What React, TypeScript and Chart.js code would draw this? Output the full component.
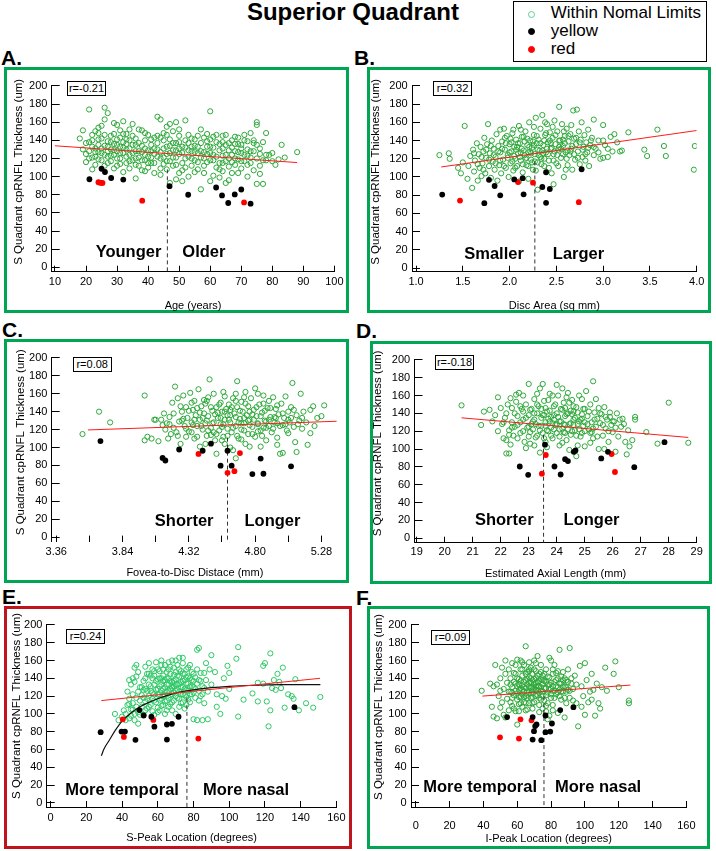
import React, { useEffect, useRef } from "react";
import { Chart, registerables } from "chart.js";

Chart.register(...registerables);

const FONT = '"Liberation Sans", Arial, Helvetica, sans-serif';

// ---------- shared ----------
const yTicks = [0, 20, 40, 60, 80, 100, 120, 140, 160, 180, 200];
const yTitle = "S Quadrant cpRNFL Thickness (um)";

// ---------- A: Age ----------
const ageTicks = [10, 20, 30, 40, 50, 60, 70, 80, 90, 100];
const ageTickLabels = ["10", "20", "30", "40", "50", "60", "70", "80", "90", "100"];
const ageWNL = [
  [18,142],[19,151],[19,130],[20,125],[20,116],[21,174],[21,138],[21,128],[22,121],[22,108],[22,133],[22,146],[20,137],
  [23,122],[23,113],[23,131],[24,148],[24,127],[24,135],[25,156],[25,118],[25,142],[25,126],[26,163],[26,134],[26,112],[27,170],[27,139],[27,122],[26,176],[24,154],[27,128],
  [28,130],[28,117],[28,145],[29,159],[29,124],[29,136],[30,141],[30,112],[30,128],[31,151],[31,133],[31,120],[32,161],[32,138],[32,105],[30,157],[29,109],[32,126],[31,143],
  [33,147],[33,130],[33,115],[34,140],[34,124],[34,109],[35,158],[35,135],[35,118],[36,142],[36,128],[36,98],[37,152],[37,121],[37,137],[34,152],[36,113],[33,136],
  [38,151],[38,127],[38,107],[39,140],[39,118],[39,131],[40,122],[40,146],[40,110],[41,135],[41,115],[42,125],[42,104],[42,143],[39,106],[41,128],
  [43,166],[43,145],[43,130],[44,163],[44,120],[44,109],[45,140],[45,131],[45,114],[46,155],[46,146],[46,125],[47,158],[47,134],[47,117],[47,93],[44,102],[46,108],
  [48,150],[48,129],[48,112],[49,160],[49,137],[49,121],[49,97],[50,145],[50,131],[50,104],[51,126],[51,115],[52,162],[52,140],[52,132],[52,110],[50,152],[51,95],
  [53,137],[53,122],[53,100],[54,142],[54,128],[54,112],[55,134],[55,118],[56,145],[56,126],[56,108],[57,152],[57,137],[57,86],[55,105],[57,121],[54,133],
  [58,143],[58,120],[58,104],[59,147],[59,133],[59,116],[60,172],[60,141],[60,126],[60,95],[61,132],[61,118],[62,138],[62,110],[62,146],[61,101],[59,125],
  [63,129],[63,115],[63,99],[64,145],[64,123],[64,106],[65,135],[65,117],[65,93],[66,129],[66,111],[67,140],[67,124],[67,104],[66,96],[64,131],
  [68,144],[68,128],[68,113],[69,136],[69,119],[70,126],[70,109],[70,131],[71,146],[71,140],[71,117],[72,139],[72,123],[72,100],[69,104],[70,135],
  [73,148],[73,128],[73,115],[74,140],[74,107],[75,160],[75,157],[75,120],[75,92],[76,125],[76,103],[77,118],[77,92],[78,148],[78,124],[74,137],[76,112],
  [79,124],[80,126],[81,113],[82,119],[84,121],[88,127],[80,117],[83,135],
  [21,120],[22,140],[23,127],[23,150],[24,119],[24,141],[25,131],[26,124],[26,146],[27,115],[27,133],[28,123],[28,138],[29,129],[29,147],
  [30,120],[30,135],[31,126],[31,114],[32,132],[32,147],[33,122],[33,141],[34,117],[34,131],[35,126],[35,145],[36,120],[36,135],[37,128],
  [37,112],[38,134],[38,118],[39,124],[39,148],[40,129],[40,115],[41,141],[41,121],[42,131],[42,115],[43,122],[43,137],[44,127],[44,143],
  [45,121],[45,148],[46,133],[46,117],[47,141],[47,126],[48,121],[48,137],[49,129],[49,113],[50,125],[50,138],[51,133],[51,107],[52,120],
  [53,129],[53,146],[54,120],[55,127],[55,141],[56,116],[56,133],[57,128],[58,127],[58,112],[59,139],[60,118],[60,133],[61,124],[61,144],
  [62,122],[63,136],[63,108],[64,115],[64,138],[65,124],[65,146],[66,120],[66,137],[67,116],[67,132],[68,120],[68,136],[69,127],[69,143],
  [70,117],[71,124],[72,130],[72,113],[73,121],[74,128],[75,135],[76,131],[77,138],[78,118],
];
const ageYellow = [
  [21.1,97.1],[25.0,108.7],[26.1,105.1],[28.1,98.5],[32.0,96.7],[46.9,89.5],[52.9,80.0],
  [61.9,88.0],[63.8,79.3],[65.8,70.9],[67.9,80.4],[70.0,85.8],[73.0,70.2],
];
const ageRed = [[24.0,93.8],[24.8,93.1],[25.3,93.1],[38.1,73.5],[70.9,71.6]];
const ageFit = [[10,134],[88,115.5]];

// ---------- B: Disc area ----------
const discTicks = [1.0, 1.5, 2.0, 2.5, 3.0, 3.5, 4.0];
const discTickLabels = ["1.0", "1.5", "2.0", "2.5", "3.0", "3.5", "4.0"];
const discWNL = [
  [1.25,124],[1.35,126],[1.36,120],[1.45,110],[1.48,104],[1.50,116],
  [1.52,156],[1.55,98],[1.56,112],[1.58,123],[1.60,88],[1.61,130],[1.62,106],[1.63,118],[1.65,137],[1.66,96],[1.67,125],[1.68,110],[1.69,133],[1.70,101],
  [1.71,115],[1.72,128],[1.73,143],[1.74,104],[1.75,121],[1.76,136],[1.77,158],[1.78,112],[1.79,126],[1.80,99],[1.81,140],[1.82,117],[1.83,131],[1.84,108],[1.85,122],[1.86,147],[1.87,96],[1.88,134],[1.89,113],[1.90,152],[1.90,127],
  [1.91,104],[1.92,139],[1.93,119],[1.94,153],[1.95,130],[1.96,110],[1.97,145],[1.98,124],[1.99,100],[2.00,136],[2.01,115],[2.02,128],[2.03,148],[2.04,107],[2.05,133],[2.06,120],[2.07,141],[2.08,112],[2.09,126],[2.10,156],[2.10,95],
  [2.11,137],[2.12,118],[2.13,131],[2.14,105],[2.15,144],[2.16,124],[2.17,150],[2.18,113],[2.19,135],[2.20,127],[2.20,98],[2.21,160],[2.22,140],[2.23,119],[2.24,132],[2.25,108],[2.26,146],[2.27,125],[2.28,165],[2.29,137],[2.30,116],[2.30,86],
  [2.31,141],[2.32,129],[2.33,153],[2.34,120],[2.35,168],[2.36,135],[2.37,112],[2.38,146],[2.39,127],[2.40,158],[2.41,138],[2.42,118],[2.43,149],[2.44,131],[2.45,104],[2.46,143],[2.47,125],[2.48,162],[2.49,136],[2.50,115],[2.47,92],
  [2.51,150],[2.52,130],[2.53,177],[2.54,140],[2.55,121],[2.56,158],[2.57,134],[2.58,100],[2.59,145],[2.60,127],[2.61,153],[2.62,113],[2.63,139],[2.64,124],[2.65,147],[2.66,131],[2.67,108],[2.68,173],[2.69,142],[2.70,119],
  [2.71,136],[2.72,174],[2.73,128],[2.74,150],[2.75,114],[2.76,141],[2.77,160],[2.78,122],[2.79,133],[2.80,146],[2.81,118],[2.82,138],[2.83,127],[2.84,152],[2.85,112],[2.86,135],[2.88,143],[2.90,163],[2.90,124],
  [2.92,131],[2.95,140],[2.97,120],[3.00,157],[3.00,121],[3.02,135],[3.05,122],[3.08,144],[3.10,128],[3.15,138],[3.18,128],[3.20,129],[3.12,147],[3.27,149],
  [3.44,130],[3.47,123],[3.58,152],[3.65,134],[3.67,123],[3.98,134],[3.97,108],
  [2.02,138],[2.08,133],[2.12,127],[2.16,139],[2.18,121],[2.22,128],[2.26,135],[2.30,130],[2.33,122],[2.37,140],
  [2.40,131],[2.44,137],[2.48,128],[2.53,133],[2.57,141],[2.62,129],[2.06,110],[2.14,114],[2.24,116],[2.36,126],
  [1.62,126],[1.66,114],[1.70,122],[1.72,108],[1.75,130],[1.78,119],[1.80,134],[1.83,124],[1.85,115],[1.88,128],[1.90,118],[1.92,131],
  [1.94,112],[1.96,137],[1.98,121],[2.00,127],[2.01,142],[2.03,117],[2.05,123],[2.07,130],[2.09,137],[2.11,122],[2.13,144],[2.15,129],
  [2.17,120],[2.19,142],[2.21,133],[2.23,126],[2.25,139],[2.27,117],[2.29,145],[2.31,124],[2.33,137],[2.35,129],[2.37,120],[2.39,148],
  [2.41,125],[2.43,140],[2.45,132],[2.47,118],[2.49,146],[2.51,124],[2.53,140],[2.55,131],[2.57,125],[2.59,137],[2.61,120],[2.63,145],
  [2.65,128],[2.67,134],[2.69,125],[2.71,143],[2.73,121],[2.75,138],[2.78,130],[2.81,125],[2.84,132],[2.87,140],[2.90,133],[2.95,127],
  [3.00,140],[3.05,131],[2.20,112],[2.28,107],[2.34,114],[2.42,110],[2.52,112],[2.60,108],[2.12,152],[2.26,155],[2.38,160],[2.46,155],
  [2.58,150],[2.66,157],[1.95,143],[2.04,152],
];
const discYellow = [
  [1.28,80.7],[1.78,96.9],[1.84,90.1],[1.90,79.9],[1.73,71.2],[2.05,97.3],[2.14,98.7],
  [2.15,81.0],[2.35,89.0],[2.39,105.2],[2.39,71.6],[2.43,86.8],[2.77,108.5],
];
const discRed = [[1.47,74.1],[2.09,94.4],[2.25,93.7],[2.74,72.3]];
const discFit = [[1.27,111],[4.0,151]];

// ---------- C: Fovea-to-disc distance ----------
const fdTicks = [3.36, 3.6, 3.84, 4.08, 4.32, 4.56, 4.8, 5.04, 5.28];
const fdTickLabels = ["3.36", "", "3.84", "", "4.32", "", "4.80", "", "5.28"];
const fdWNL = [
  [3.55,115],[3.67,140],[3.75,128],[4.00,158],[4.02,112],[4.00,108],[4.05,110],[4.08,131],[4.07,131],
  [4.10,107],[4.12,131],[4.13,125],[4.14,138],[4.15,120],[4.16,127],[4.17,110],[4.18,134],[4.19,115],[4.20,150],[4.21,122],[4.22,168],[4.23,117],[4.24,155],[4.25,129],[4.26,104],[4.27,140],[4.28,158],[4.29,124],[4.30,112],[4.30,145],
  [4.31,133],[4.32,118],[4.33,161],[4.34,128],[4.35,142],[4.36,110],[4.37,136],[4.38,124],[4.39,165],[4.40,131],[4.40,101],[4.41,146],[4.42,120],[4.43,138],[4.44,127],[4.45,152],[4.45,113],[4.38,144],
  [4.46,135],[4.47,176],[4.48,122],[4.49,141],[4.50,160],[4.50,128],[4.51,108],[4.52,145],[4.53,133],[4.54,119],[4.55,150],[4.55,126],[4.56,140],[4.57,112],[4.58,157],[4.58,131],[4.59,143],[4.60,121],[4.60,136],[4.57,162],[4.52,93],
  [4.61,148],[4.62,128],[4.63,117],[4.64,155],[4.65,138],[4.66,124],[4.67,174],[4.67,145],[4.68,110],[4.69,132],[4.70,151],[4.70,120],[4.71,140],[4.72,127],[4.73,162],[4.73,104],[4.74,136],[4.75,146],[4.75,115],[4.64,97],[4.66,88],
  [4.76,131],[4.77,155],[4.78,123],[4.79,142],[4.80,166],[4.80,112],[4.81,135],[4.82,127],[4.83,148],[4.84,119],[4.85,139],[4.86,158],[4.87,130],[4.88,108],[4.89,144],[4.90,124],[4.90,152],[4.84,101],
  [4.91,134],[4.92,117],[4.93,156],[4.94,128],[4.95,143],[4.96,111],[4.97,137],[4.98,93],[4.99,149],[5.00,125],[5.00,94],[5.01,133],[5.02,157],[5.03,119],[5.04,140],[5.05,128],[5.06,145],[5.07,172],[5.08,123],[5.09,106],[5.10,136],[5.10,95],
  [5.12,130],[5.13,160],[5.14,121],[5.15,140],[5.17,128],[5.18,103],[5.20,142],[5.20,116],[5.22,146],[5.23,124],[5.25,133],[5.28,135],[5.30,147],
  [4.35,125],[4.42,133],[4.48,114],[4.53,139],[4.56,123],[4.62,136],[4.68,128],[4.72,133],[4.78,137],[4.82,118],[4.88,129],[4.94,134],
  [4.44,149],[4.58,104],[4.62,142],[4.70,109],[4.76,125],[4.86,122],[4.96,127],[5.04,131],[4.28,132],[4.34,150],[4.50,117],[4.66,152],
  [4.18,126],[4.21,138],[4.24,113],[4.27,130],[4.30,121],[4.32,141],[4.34,117],[4.36,131],[4.38,112],[4.40,139],[4.41,124],[4.43,153],
  [4.45,130],[4.46,119],[4.48,145],[4.49,127],[4.51,137],[4.52,115],[4.54,148],[4.55,133],[4.57,126],[4.58,140],[4.60,113],[4.61,131],
  [4.63,145],[4.64,122],[4.66,134],[4.67,113],[4.69,141],[4.70,127],[4.72,119],[4.73,149],[4.75,130],[4.76,140],[4.78,115],[4.79,131],
  [4.81,145],[4.82,126],[4.84,135],[4.85,113],[4.87,141],[4.88,122],[4.90,131],[4.91,144],[4.93,121],[4.95,133],[4.96,147],[4.98,124],
  [5.00,138],[5.02,126],[5.04,116],[5.06,133],[5.08,142],[5.11,126],[5.14,133],[4.26,146],[4.36,152],[4.46,156],[4.56,108],[4.66,160],
  [4.76,101],[4.86,149],[4.96,103],[4.44,104],[4.62,100],[4.72,156],[4.82,160],
];
const fdYellow = [
  [3.68,107.2],[4.13,88.4],[4.15,85.5],[4.25,97.8],[4.42,96.4],[4.48,104.3],[4.55,79.7],
  [4.60,96.4],[4.63,79.7],[4.78,70.3],[4.84,87.7],[4.86,70.7],[5.06,79.0],
];
const fdRed = [[4.39,92.8],[4.60,71.7],[4.65,73.6],[4.69,93.8]];
const fdFit = [[3.59,119.6],[5.39,129.3]];

// ---------- D: Axial length ----------
const alTicks = [19, 20, 21, 22, 23, 24, 25, 26, 27, 28, 29];
const alTickLabels = ["19", "20", "21", "22", "23", "24", "25", "26", "27", "28", "29"];
const alWNL = [
  [20.6,149],[21.3,127],[21.4,142],[21.6,144],[21.9,158],[21.8,138],[21.7,131],[21.9,120],
  [22.0,146],[22.05,128],[22.1,112],[22.15,135],[22.2,95],[22.25,150],[22.3,95],[22.3,121],[22.35,157],[22.4,130],[22.45,115],[22.5,140],[22.2,110],[22.4,124],
  [22.55,153],[22.6,127],[22.65,163],[22.7,118],[22.75,145],[22.8,133],[22.85,108],[22.9,150],[22.95,124],[23.0,173],[23.0,138],[22.6,112],[22.8,160],[22.9,101],[22.7,130],
  [23.05,119],[23.1,145],[23.15,131],[23.2,156],[23.25,113],[23.3,140],[23.35,126],[23.4,168],[23.45,135],[23.5,173],[23.5,118],[23.2,104],[23.3,150],[23.4,96],[23.1,128],[23.45,145],
  [23.55,154],[23.6,130],[23.65,142],[23.7,120],[23.75,162],[23.8,136],[23.85,112],[23.9,148],[23.95,127],[24.0,172],[24.0,140],[23.6,108],[23.7,155],[23.8,124],[23.9,133],[23.55,138],[24.0,118],
  [24.05,160],[24.1,131],[24.15,145],[24.2,123],[24.25,152],[24.3,137],[24.35,110],[24.4,163],[24.45,128],[24.5,143],[24.5,116],[24.1,104],[24.2,168],[24.3,127],[24.4,140],[24.45,99],
  [24.55,155],[24.6,133],[24.65,121],[24.7,147],[24.75,128],[24.8,160],[24.85,114],[24.9,139],[24.95,126],[25.0,145],[25.0,103],[24.6,142],[24.8,131],[24.9,118],[24.7,92],[25.05,165],
  [25.1,137],[25.15,122],[25.2,150],[25.25,130],[25.3,176],[25.3,112],[25.35,141],[25.4,125],[25.45,134],[25.5,146],[25.5,100],[25.2,118],[25.4,156],
  [25.55,129],[25.6,139],[25.65,115],[25.7,147],[25.75,123],[25.8,133],[25.85,108],[25.9,141],[25.95,127],[26.0,119],[25.7,100],[25.9,136],
  [26.05,131],[26.15,140],[26.2,114],[26.3,125],[26.35,134],[26.45,108],[26.5,94],[26.55,121],[26.7,110],[26.8,136],[26.8,133],[26.1,97],[26.4,128],[26.6,103],
  [27.2,119],[27.6,106],[28.0,152],[28.7,107],
  [23.2,133],[23.6,126],[23.9,138],[24.1,122],[24.3,146],[24.6,127],[24.9,134],[23.4,121],
  [23.75,131],[24.25,119],[24.55,139],[22.8,142],[23.0,125],[25.0,130],[25.3,123],
  [22.1,130],[22.2,140],[22.3,116],[22.4,146],[22.5,125],[22.6,137],[22.7,148],[22.8,120],[22.9,135],[23.0,114],[23.05,144],[23.15,122],
  [23.2,140],[23.25,128],[23.3,115],[23.35,148],[23.45,126],[23.5,138],[23.55,112],[23.6,146],[23.65,121],[23.7,134],[23.75,143],[23.8,115],
  [23.85,129],[23.9,122],[23.95,150],[24.0,128],[24.05,136],[24.1,114],[24.15,131],[24.2,144],[24.25,128],[24.3,118],[24.35,139],[24.4,122],
  [24.45,152],[24.5,129],[24.55,120],[24.6,148],[24.65,135],[24.7,115],[24.75,141],[24.8,122],[24.85,133],[24.95,145],[25.0,120],[25.1,128],
  [25.15,142],[25.25,119],[25.35,133],[25.45,114],[25.55,140],[25.65,127],[25.75,136],[25.85,120],[26.0,131],[26.1,124],[26.25,133],[22.35,105],
  [23.05,106],[23.65,102],[24.2,107],[24.75,104],[25.2,107],[22.55,161],[23.3,162],[23.85,160],[24.35,158],[24.9,156],
];
const alYellow = [
  [22.68,80.4],[22.98,71.0],[23.58,104.9],[23.92,80.4],[24.14,71.4],[24.30,88.6],[24.40,86.5],
  [24.61,96.9],[24.67,98.4],[25.59,89.4],[25.83,96.9],[26.77,79.6],[27.85,107.7],
];
const alRed = [[23.47,72.4],[23.61,93.3],[25.96,94.4],[26.08,74.2]];
const alFit = [[20.6,135],[28.7,113]];

// ---------- E: S-peak location ----------
const peakTicks = [0, 20, 40, 60, 80, 100, 120, 140, 160];
const peakTickLabels = ["0", "20", "40", "60", "80", "100", "120", "140", "160"];
const speakWNL = [
  [36,100],[38,93],[40,97],[41,104],[42,100],[43,110],[44,95],[44,117],[45,105],[45,98],[46,122],[46,112],[47,100],[47,93],[48,118],
  [48,108],[49,125],[49,89],[50,115],[50,99],[44,138],[46,140],[47,136],[45,133],[48,142],[47,152],[49,147],[48,155],[50,130],[43,125],
  [51,108],[51,121],[52,137],[52,99],[53,128],[53,114],[54,145],[54,106],[55,133],[55,120],[55,157],[56,110],[56,126],[56,143],[57,150],
  [57,117],[57,103],[58,133],[58,122],[58,148],[59,113],[59,127],[59,158],[60,139],[60,107],[60,122],[52,118],[54,126],[58,99],[53,153],
  [61,131],[61,116],[61,148],[62,126],[62,160],[62,109],[63,137],[63,120],[63,143],[64,130],[64,114],[64,155],[65,125],[65,140],[65,104],
  [66,133],[66,118],[66,150],[67,128],[67,145],[67,111],[68,136],[68,122],[68,160],[69,131],[69,115],[69,144],[70,126],[70,139],[70,100],
  [61,104],[63,128],[65,133],[67,137],[69,124],[62,140],[64,121],[66,126],[68,129],[70,147],
  [71,133],[71,118],[71,155],[72,142],[72,125],[72,163],[73,130],[73,112],[73,148],[74,137],[74,122],[74,157],[75,128],[75,145],[75,106],
  [76,134],[76,119],[77,152],[77,126],[78,140],[78,113],[79,131],[79,147],[80,124],[80,94],[72,134],[74,130],[76,141],[78,122],[80,137],[77,134],
  [81,128],[82,172],[82,93],[83,174],[83,138],[84,120],[84,146],[85,93],[85,131],[86,146],[86,112],[87,138],[88,94],[88,125],[89,150],
  [90,166],[90,133],[81,141],[83,115],[87,157],
  [92,147],[93,122],[93,108],[95,100],[96,120],[97,140],[98,117],[99,154],[100,128],[100,146],[104,162],[105,97],[105,175],[108,116],
  [113,123],[116,114],[116,135],[119,134],[120,157],[119,154],[121,114],[122,86],[123,104],[123,168],[124,129],[125,138],[126,127],
  [127,145],[128,136],[129,129],[130,152],[131,107],[133,122],[135,120],[136,117],[137,139],[139,104],[143,112],[147,107],[151,119],
  [52,127],[53,140],[54,117],[55,145],[56,131],[57,124],[57,140],[58,115],[59,137],[60,128],[60,150],[61,122],[61,140],[62,133],[62,117],
  [63,150],[63,110],[64,138],[64,125],[65,147],[65,115],[66,140],[66,108],[67,121],[67,153],[68,131],[68,113],[69,137],[69,152],[70,120],
  [70,133],[71,127],[71,143],[72,117],[72,150],[73,136],[73,122],[74,145],[74,113],[75,121],[75,138],[76,127],[76,150],[77,116],[77,142],
  [78,131],[78,155],[79,122],[79,138],[80,130],[80,145],[81,118],[82,134],[82,150],[83,126],[84,137],[85,122],[86,129],[62,155],[66,158],
  [70,160],[74,163],[58,143],[55,108],[60,102],[64,100],[68,104],[72,108],[76,110],[51,130],[53,104],[49,102],[46,105],[42,93],[44,111],
];
const speakYellow = [
  [28.0,79.5],[39.7,80.2],[41.6,80.2],[47.5,70.9],[49.7,104.3],[52.1,98.2],[56.4,96.8],
  [58.1,85.6],[65.1,88.1],[65.1,71.2],[67.9,88.8],[71.6,96.8],[136.5,107.6],
];
const speakRed = [[40.4,93.9],[41.0,74.1],[57.5,93.2],[82.7,72.3]];
const speakFit = [[28.4,115],[150.8,140]];
const speakCurve = [
  [28.4,53],[30,61],[33,71],[36,81],[40,92],[45,101],[50,108],[55,113],[60,117],
  [65,120.5],[70,123.5],[80,127],[90,129.5],[100,131],[115,132.2],[130,132.8],[151,133],
];

// ---------- F: I-peak location ----------
const ipeakWNL = [
  [39,126],[44,134],[45,108],[46,97],[47,155],[48,95],[48,133],[49,120],[50,107],[50,140],[51,113],[52,128],[52,99],[53,96],[53,145],
  [54,117],[54,135],[55,104],[55,150],[55,125],[51,152],[53,160],[46,131],[50,126],
  [56,113],[56,140],[57,130],[57,157],[58,121],[58,106],[59,145],[59,134],[60,88],[60,116],[60,161],[61,127],[61,139],[61,103],[62,150],
  [62,119],[62,160],[63,132],[63,108],[63,143],[64,125],[64,155],[64,113],[65,176],[65,138],[65,120],[56,125],[58,136],[60,131],[62,129],
  [64,136],[57,118],[59,103],[61,111],[63,122],[65,129],[66,105],
  [66,133],[66,147],[67,124],[67,141],[67,112],[68,152],[68,130],[68,118],[69,138],[69,145],[69,125],[70,133],[70,160],[70,113],[71,140],
  [71,127],[71,148],[72,121],[72,136],[72,165],[73,131],[73,110],[73,145],[74,126],[74,139],[74,155],[75,120],[75,133],[75,106],[66,125],
  [68,140],[70,128],[72,131],[74,116],[67,131],[69,119],[71,135],[73,124],[75,143],[67,158],
  [76,137],[76,115],[77,129],[77,150],[78,124],[78,142],[79,133],[79,163],[80,118],[80,128],[81,145],[81,110],[82,136],[82,155],[83,122],
  [83,131],[84,140],[84,101],[85,172],[85,127],[86,134],[86,116],[87,147],[87,125],[88,131],[88,96],[89,138],[89,112],[90,127],[90,150],
  [77,109],[79,98],[81,126],[83,146],[85,120],[87,138],[89,125],[78,94],[80,160],[84,130],
  [91,174],[91,118],[92,134],[93,128],[94,143],[95,112],[96,86],[97,154],[98,131],[99,120],[100,157],[100,99],[101,138],[102,113],[103,125],
  [104,145],[104,116],[106,98],[107,134],[108,112],[109,106],[110,130],[112,152],[113,126],[117,145],[118,159],[120,130],[126,115],[126,112],
  [105,127],[95,133],[93,115],[98,108],
  [56,133],[57,124],[58,146],[59,126],[60,140],[60,123],[61,133],[62,137],[62,112],[63,127],[63,150],[64,119],[64,130],[65,145],[65,112],
  [66,139],[66,118],[67,135],[67,148],[68,123],[68,135],[69,130],[69,112],[70,139],[70,150],[71,120],[71,131],[72,143],[72,126],[73,137],
  [73,118],[74,130],[74,147],[75,125],[75,138],[76,129],[76,145],[77,121],[77,136],[78,133],[78,112],[79,127],[79,141],[80,135],[80,122],
  [81,131],[81,150],[82,126],[82,118],[83,138],[84,124],[84,148],[85,134],[86,125],[86,142],[87,131],[88,118],[88,140],[89,130],[90,136],
  [91,126],[92,140],[57,109],[61,119],[65,104],[69,106],[73,102],[77,103],[81,104],[59,155],[63,158],[67,150],[71,157],
];
const ipeakYellow = [
  [54.0,96.4],[69.1,96.4],[69.9,80.6],[70.6,86.3],[71.4,88.1],[69.1,71.2],[74.2,70.5],
  [76.7,98.2],[76.7,79.5],[79.5,80.2],[80.5,89.2],[85.4,104.3],[93.2,107.6],
];
const ipeakRed = [[49.8,73.7],[61.0,72.3],[61.9,93.9],[68.4,92.8]];
const ipeakFit = [[39.4,120],[126.9,132.4]];

// ---------- panel layout specs ----------
type Pt = number[];
type Spec = {
  id: string; letter: string; letterX: number; letterCap: number;
  box: number[]; boxColor: string; plot: number[];
  xMin: number; xMax: number; yMin: number;
  xTicks: number[]; xTickLabels: string[]; xBorder: boolean;
  xTitle: string; yTitleX: number; yTitleShift: number; xTitleY: number; xLabelY: number;
  wnl: Pt[]; yellow: Pt[]; red: Pt[]; fit: Pt[]; curve?: Pt[]; wnlColor: string;
  dashX: number; dashTop: number;
  leftLabel: string; rightLabel: string; gapL: number; gapR: number; labelY: number;
  rText: string; rPos: number[];
};

const GREEN = "#00a651";
const DARKRED = "#c0141c";
const WNL = "#2ea83a";

const specs: Spec[] = [
  { id: "A", letter: "A.", letterX: 1, letterCap: 50, box: [4, 67, 345, 246], boxColor: GREEN,
    plot: [51.7, 338.3, 84, 271.7], xMin: 8.95, xMax: 100, yMin: -4.8,
    xTicks: ageTicks, xTickLabels: ageTickLabels, xBorder: true,
    xTitle: "Age (years)", yTitleX: 18.5, yTitleShift: -7, xTitleY: 305.5, xLabelY: 281.7,
    wnl: ageWNL, yellow: ageYellow, red: ageRed, fit: ageFit, wnlColor: WNL,
    dashX: 46.2, dashTop: 108, leftLabel: "Younger", rightLabel: "Older", gapL: 6, gapR: 15, labelY: 16,
    rText: "r=-0.21", rPos: [67, 81] },
  { id: "B", letter: "B.", letterX: 354, letterCap: 50, box: [367, 67, 344, 246], boxColor: GREEN,
    plot: [412, 696.7, 84, 271.7], xMin: 0.957, xMax: 4.0, yMin: -4.0,
    xTicks: discTicks, xTickLabels: discTickLabels, xBorder: true,
    xTitle: "Disc Area (sq mm)", yTitleX: 376, yTitleShift: -7, xTitleY: 305.5, xLabelY: 281.7,
    wnl: discWNL, yellow: discYellow, red: discRed, fit: discFit, wnlColor: WNL,
    dashX: 2.27, dashTop: 117, leftLabel: "Smaller", rightLabel: "Larger", gapL: 11, gapR: 18, labelY: 14.5,
    rText: "r=0.32", rPos: [433, 81] },
  { id: "C", letter: "C.", letterX: 2, letterCap: 322, box: [4, 339, 345, 244], boxColor: GREEN,
    plot: [51.7, 338, 353, 541.6], xMin: 3.327, xMax: 5.40, yMin: -5,
    xTicks: fdTicks, xTickLabels: fdTickLabels, xBorder: false,
    xTitle: "Fovea-to-Disc Distace (mm)", yTitleX: 21, yTitleShift: -7.5, xTitleY: 573.3, xLabelY: 551.7,
    wnl: fdWNL, yellow: fdYellow, red: fdRed, fit: fdFit, wnlColor: WNL,
    dashX: 4.60, dashTop: 111, leftLabel: "Shorter", rightLabel: "Longer", gapL: 14, gapR: 17, labelY: 17,
    rText: "r=0.08", rPos: [72.7, 356.5] },
  { id: "D", letter: "D.", letterX: 356, letterCap: 323, box: [370, 341, 342, 243], boxColor: GREEN,
    plot: [414.5, 696.7, 353, 542.7], xMin: 18.92, xMax: 29, yMin: -5.1,
    xTicks: alTicks, xTickLabels: alTickLabels, xBorder: true,
    xTitle: "Estimated Axial Length (mm)", yTitleX: 378, yTitleShift: -8, xTitleY: 574.3, xLabelY: 551.7,
    wnl: alWNL, yellow: alYellow, red: alRed, fit: alFit, wnlColor: WNL,
    dashX: 23.53, dashTop: 116, leftLabel: "Shorter", rightLabel: "Longer", gapL: 10, gapR: 20, labelY: 19.8,
    rText: "r=-0.18", rPos: [435, 355] },
  { id: "E", letter: "E.", letterX: 2, letterCap: 588.5, box: [4, 606, 348, 243], boxColor: DARKRED,
    plot: [46.7, 338.3, 617, 807], xMin: -2.2, xMax: 160, yMin: -4.6,
    xTicks: peakTicks, xTickLabels: peakTickLabels, xBorder: true,
    xTitle: "S-Peak Location (degrees)", yTitleX: 17, yTitleShift: -10, xTitleY: 838, xLabelY: 818,
    wnl: speakWNL, yellow: speakYellow, red: speakRed, fit: speakFit, curve: speakCurve, wnlColor: "#2ec866",
    dashX: 76.3, dashTop: 118, leftLabel: "More temporal", rightLabel: "More nasal", gapL: 8, gapR: 16, labelY: 13.7,
    rText: "r=0.24", rPos: [66, 628.5] },
  { id: "F", letter: "F.", letterX: 356, letterCap: 590, box: [367, 606, 343, 243], boxColor: GREEN,
    plot: [411, 697.7, 617, 807], xMin: -2.8, xMax: 160, yMin: -4.6,
    xTicks: peakTicks, xTickLabels: peakTickLabels, xBorder: true,
    xTitle: "I-Peak Location (degrees)", yTitleX: 378.5, yTitleShift: -9, xTitleY: 839, xLabelY: 826,
    wnl: ipeakWNL, yellow: ipeakYellow, red: ipeakRed, fit: ipeakFit, wnlColor: WNL,
    dashX: 75.8, dashTop: 120, leftLabel: "More temporal", rightLabel: "More nasal", gapL: 7, gapR: 11, labelY: 17.3,
    rText: "r=0.09", rPos: [431, 630] },
];

const toXY = (arr: Pt[]) => arr.map(([x, y]) => ({ x, y }));

const X_TICK_LEN = -6;
const Y_TICK_LEN = -8;
const TICK_FONT = 11;
const XT_FONT = 11;
const YT_FONT = 11.5;

// draws the region labels either side of the dashed divider, and the rotated y-axis title
const regionPlugin = {
  id: "regions",
  afterDatasetsDraw(chart: any, _args: any, opts: any) {
    const { ctx, chartArea } = chart;
    const xs = chart.scales.x;
    const ys = chart.scales.y;
    const px = xs.getPixelForValue(opts.dashX);
    const py = ys.getPixelForValue(opts.labelY);
    ctx.save();
    ctx.font = `bold 16.5px ${FONT}`;
    ctx.fillStyle = "#000";
    ctx.textBaseline = "middle";
    ctx.textAlign = "right";
    ctx.fillText(opts.leftLabel, px - opts.gapL, py);
    ctx.textAlign = "left";
    ctx.fillText(opts.rightLabel, px + opts.gapR, py);
    ctx.restore();

    ctx.save();
    ctx.translate(opts.yTitleX, (chartArea.top + chartArea.bottom) / 2 + opts.yTitleShift);
    ctx.rotate(-Math.PI / 2);
    ctx.font = `${YT_FONT}px ${FONT}`;
    ctx.fillStyle = "#000";
    ctx.textAlign = "center";
    ctx.textBaseline = "middle";
    ctx.fillText(opts.yTitle, 0, 0);
    ctx.restore();
  },
};

function Panel({ spec }: { spec: Spec }) {
  const ref = useRef<HTMLCanvasElement>(null);
  const [bx, by, bw, bh] = spec.box;
  const [L, R, T, B] = spec.plot;
  const cx = bx - 10, cy = by, cw = bw + 14, ch = bh + 2;

  useEffect(() => {
    const yW = L - cx;
    const xH = cy + ch - B;
    const xTitlePad = cy + ch - spec.xTitleY - (XT_FONT * 1.2) / 2;
    const xTickPad = spec.xLabelY - B - X_TICK_LEN - (TICK_FONT * 1.2) / 2;
    const yTickPad = 4.3 - Y_TICK_LEN;

    const datasets: any[] = [
      { data: toXY(spec.yellow), backgroundColor: "#000", borderColor: "#000", pointRadius: 2.9, borderWidth: 0 },
      { data: toXY(spec.red), backgroundColor: "#ff0000", borderColor: "#ff0000", pointRadius: 2.9, borderWidth: 0 },
      { data: toXY(spec.fit), showLine: true, borderColor: "#ff1a1a", borderWidth: 1, pointRadius: 0 },
    ];
    if (spec.curve) {
      datasets.push({ data: toXY(spec.curve), showLine: true, borderColor: "#111", borderWidth: 1.2, pointRadius: 0, cubicInterpolationMode: "monotone" });
    }
    datasets.push({
      data: [{ x: spec.dashX, y: spec.dashTop }, { x: spec.dashX, y: spec.yMin }],
      showLine: true, borderColor: "#333", borderWidth: 1, borderDash: [4, 3], pointRadius: 0,
    });
    datasets.push({ data: toXY(spec.wnl), backgroundColor: "rgba(0,0,0,0)", borderColor: spec.wnlColor, pointRadius: 2.6, borderWidth: 1 });

    const chart = new Chart(ref.current as HTMLCanvasElement, {
      type: "scatter",
      data: { datasets },
      plugins: [regionPlugin as any],
      options: {
        responsive: false,
        animation: false,
        events: [],
        layout: { padding: { left: 0, top: T - cy, right: cx + cw - R, bottom: 0 }, autoPadding: false } as any,
        plugins: {
          legend: { display: false },
          tooltip: { enabled: false },
          regions: {
            dashX: spec.dashX, labelY: spec.labelY, leftLabel: spec.leftLabel, rightLabel: spec.rightLabel,
            gapL: spec.gapL, gapR: spec.gapR,
            yTitle, yTitleX: spec.yTitleX - cx, yTitleShift: spec.yTitleShift,
          },
        } as any,
        scales: {
          x: {
            type: "linear", min: spec.xMin, max: spec.xMax,
            afterBuildTicks: (s: any) => { s.ticks = spec.xTicks.map((v) => ({ value: v })); },
            afterFit: (s: any) => { s.height = xH; },
            ticks: {
              autoSkip: false, maxRotation: 0, minRotation: 0, padding: xTickPad, color: "#000",
              font: { family: FONT, size: TICK_FONT },
              callback: (_v: any, i: number) => spec.xTickLabels[i],
            },
            grid: { drawOnChartArea: false, drawTicks: true, tickLength: X_TICK_LEN, color: "#000", tickColor: "#000", tickWidth: 1 },
            border: { display: spec.xBorder, color: "#000", width: 1 },
            title: { display: true, text: spec.xTitle, color: "#000", font: { family: FONT, size: XT_FONT }, padding: { top: 0, bottom: xTitlePad } },
          },
          y: {
            type: "linear", min: spec.yMin, max: 200,
            afterBuildTicks: (s: any) => { s.ticks = yTicks.map((v) => ({ value: v })); },
            afterFit: (s: any) => { s.width = yW; },
            ticks: {
              autoSkip: false, padding: yTickPad, color: "#000",
              font: { family: FONT, size: TICK_FONT },
              callback: (v: any) => String(v),
            },
            grid: { drawOnChartArea: false, drawTicks: true, tickLength: Y_TICK_LEN, color: "#000", tickColor: "#000", tickWidth: 1 },
            border: { display: true, color: "#000", width: 1 },
            title: { display: false },
          },
        } as any,
      },
    });
    return () => chart.destroy();
  }, [spec]);

  const letterTop = spec.letterCap - 2.73;
  return (
    <>
      <div style={{ position: "absolute", left: bx, top: by, width: bw, height: bh, boxSizing: "border-box", border: `3px solid ${spec.boxColor}` }} />
      <div style={{ position: "absolute", left: spec.letterX, top: letterTop, fontFamily: FONT, fontWeight: "bold", fontSize: 21, lineHeight: "21px", color: "#000" }}>{spec.letter}</div>
      <canvas ref={ref} width={cw} height={ch} style={{ position: "absolute", left: cx, top: cy, width: cw, height: ch }} />
      <div style={{ position: "absolute", left: spec.rPos[0], top: spec.rPos[1], width: 39, height: 15, boxSizing: "border-box", border: "1px solid #000", background: "#fff", fontFamily: FONT, fontSize: 11, lineHeight: "13px", textAlign: "center", color: "#000" }}>{spec.rText}</div>
    </>
  );
}

const legendItems = [
  { label: "Within Nomal Limits", fill: "transparent", stroke: "#5ccf95", cy: 14, ty: 12.3 },
  { label: "yellow", fill: "#000", stroke: "#000", cy: 31.5, ty: 30.7 },
  { label: "red", fill: "#ff0000", stroke: "#ff0000", cy: 49.3, ty: 48.3 },
];

export default function App() {
  return (
    <div style={{ position: "absolute", left: 0, top: 0, width: 716, height: 851, overflow: "hidden", background: "#fff" }}>
      <div style={{ position: "absolute", left: 0, top: -0.4, width: 705.8, textAlign: "center", fontFamily: FONT, fontWeight: "bold", fontSize: 24, lineHeight: "24px", color: "#000" }}>
        Superior Quadrant
      </div>
      <div style={{ position: "absolute", left: 513, top: 0.5, width: 194, height: 61.5, boxSizing: "border-box", border: "1.5px solid #000" }} />
      {legendItems.map((it) => (
        <React.Fragment key={it.label}>
          <div style={{ position: "absolute", left: 531.7 - 3.5, top: it.cy - 3.5, width: 7, height: 7, boxSizing: "border-box", borderRadius: "50%", background: it.fill, border: `1px solid ${it.stroke}` }} />
          <div style={{ position: "absolute", left: 550.7, top: it.ty - 8.3, fontFamily: FONT, fontSize: 17, lineHeight: "17px", color: "#000", whiteSpace: "nowrap" }}>{it.label}</div>
        </React.Fragment>
      ))}
      {specs.map((s) => (
        <Panel key={s.id} spec={s} />
      ))}
    </div>
  );
}
